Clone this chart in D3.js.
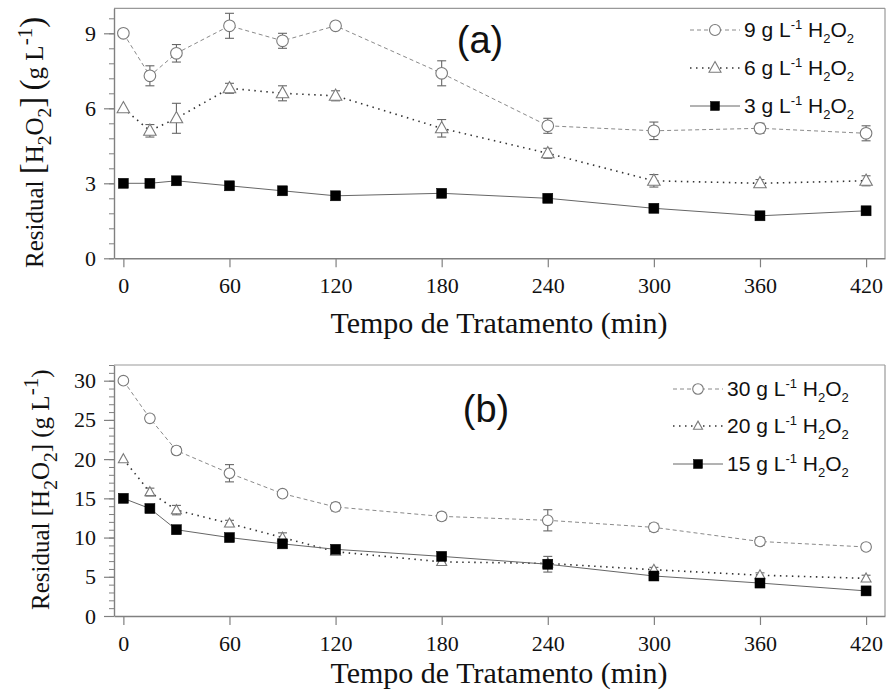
<!DOCTYPE html>
<html><head><meta charset="utf-8">
<script src="https://cdn.jsdelivr.net/npm/d3@7"></script>
<style>
body{margin:0;background:#fff;}
svg{display:block;}
</style></head>
<body>
<script>
// ---- data ----
const times = [0, 15, 30, 60, 90, 120, 180, 240, 300, 360, 420];
const xTicks = [0, 60, 120, 180, 240, 300, 360, 420];

const a9 = [9.0, 7.3, 8.2, 9.3, 8.7, 9.3, 7.4, 5.3, 5.1, 5.2, 5.0];
const a9err = [0, 0.4, 0.35, 0.5, 0.3, 0.15, 0.5, 0.3, 0.35, 0.2, 0.3];
const a6 = [6.0, 5.1, 5.6, 6.8, 6.6, 6.5, 5.2, 4.2, 3.1, 3.0, 3.1];
const a6err = [0, 0.25, 0.6, 0.2, 0.3, 0.2, 0.35, 0.2, 0.25, 0.15, 0.2];
const a3 = [3.0, 3.0, 3.1, 2.9, 2.7, 2.5, 2.6, 2.4, 2.0, 1.7, 1.9];
const a3err = [0, 0.05, 0.1, 0.05, 0.1, 0.05, 0.05, 0.1, 0.05, 0.05, 0.05];
const aYTicks = [0, 3, 6, 9];

const b30 = [30, 25.2, 21.1, 18.2, 15.6, 13.9, 12.7, 12.2, 11.3, 9.5, 8.8];
const b30err = [0, 0.4, 0.5, 1.1, 0.4, 0.5, 0.5, 1.35, 0.5, 0.5, 0.4];
const b20 = [20, 15.8, 13.5, 11.8, 10.0, 8.2, 6.9, 6.7, 5.9, 5.2, 4.8];
const b20err = [0, 0.5, 0.6, 0.4, 0.6, 0.3, 0.3, 0.4, 0.3, 0.3, 0.4];
const b15 = [15, 13.7, 11.0, 10.0, 9.2, 8.5, 7.6, 6.6, 5.1, 4.2, 3.2];
const b15err = [0, 0.3, 0.3, 0.5, 0.3, 0.3, 0.3, 1.0, 0.3, 0.3, 0.3];
const bYTicks = [0, 5, 10, 15, 20, 25, 30];

const legendA = ["9", "6", "3"];
const legendB = ["30", "20", "15"];
const xTitle = "Tempo de Tratamento (min)";

// ---- drawing ----
const W = 886, H = 691;
const svg = d3.select("body").append("svg").attr("width", W).attr("height", H);
const serif = "Liberation Serif, Times New Roman, serif";
const sans = "Liberation Sans, Arial, sans-serif";
const axisColor = "#808080";

const x = d3.scaleLinear().domain([-5.3, 430.7]).range([114, 885]);

const styles = [
  {shape: "circle", dash: "4,3", lineColor: "#8a8a8a", lw: 1, mStroke: "#7a7a7a", fill: "#fff"},
  {shape: "triangle", dash: "1.5,4.5", lineColor: "#333", lw: 1.6, mStroke: "#7a7a7a", fill: "#fff"},
  {shape: "square", dash: null, lineColor: "#666", lw: 1, mStroke: "#000", fill: "#000"}
];

function drawMarker(g, st, cx, cy, size) {
  if (st.shape === "circle") {
    g.append("circle").attr("cx", cx).attr("cy", cy).attr("r", size.c)
      .attr("fill", st.fill).attr("stroke", st.mStroke).attr("stroke-width", 1.1);
  } else if (st.shape === "triangle") {
    const s = size.t, h = s * 0.9;
    g.append("path").attr("d", `M${cx},${cy - h * 0.6}L${cx + s / 2},${cy + h * 0.4}L${cx - s / 2},${cy + h * 0.4}Z`)
      .attr("fill", st.fill).attr("stroke", st.mStroke).attr("stroke-width", 1.1);
  } else {
    const s = size.s;
    g.append("rect").attr("x", cx - s / 2).attr("y", cy - s / 2).attr("width", s).attr("height", s)
      .attr("fill", st.fill).attr("stroke", st.mStroke).attr("stroke-width", 0.5);
  }
}

function panel(cfg) {
  const y = d3.scaleLinear().domain(cfg.yDomain).range([cfg.y0, cfg.yTop]);
  const g = svg.append("g");
  g.append("line").attr("x1", 114).attr("x2", 885).attr("y1", cfg.yTop).attr("y2", cfg.yTop)
    .attr("stroke", "#999").attr("stroke-width", 1.2);
  g.append("line").attr("x1", 885).attr("x2", 885).attr("y1", cfg.yTop).attr("y2", cfg.y0)
    .attr("stroke", "#999").attr("stroke-width", 1.2);

  const yMinor = g.append("g").attr("transform", "translate(114,0)")
    .call(d3.axisLeft(y).tickValues(cfg.yMinor).tickSize(5).tickFormat("").tickSizeOuter(0));
  yMinor.select(".domain").remove();
  yMinor.selectAll("line").attr("stroke", axisColor).attr("stroke-width", 1);

  const yAxis = g.append("g").attr("transform", "translate(114,0)")
    .call(d3.axisLeft(y).tickValues(cfg.yTicks).tickSize(10).tickPadding(8).tickSizeOuter(0));
  yAxis.attr("font-family", serif).attr("font-size", 22);
  yAxis.select(".domain").attr("stroke", axisColor).attr("stroke-width", 1.4);
  yAxis.selectAll("line").attr("stroke", axisColor).attr("stroke-width", 1.2);
  yAxis.selectAll("text").style("font-family", serif).style("font-size", "22px").attr("fill", "#111");

  const xAxis = g.append("g").attr("transform", `translate(0,${cfg.y0})`)
    .call(d3.axisBottom(x).tickValues(xTicks).tickSize(9).tickPadding(10).tickSizeOuter(0));
  xAxis.attr("font-family", serif).attr("font-size", 22);
  xAxis.select(".domain").attr("stroke", axisColor).attr("stroke-width", 1.4);
  xAxis.selectAll("line").attr("stroke", axisColor).attr("stroke-width", 1.2);
  xAxis.selectAll("text").style("font-family", serif).style("font-size", "22px").attr("fill", "#111");

  g.append("text").attr("x", 499).attr("y", cfg.xTitleY).attr("text-anchor", "middle")
    .style("font-family", serif).attr("font-size", 30).attr("fill", "#111").text(xTitle);

  const yt = g.append("text").attr("transform", `translate(${cfg.yTitleX},${cfg.yTitleStart}) rotate(-90)`)
    .style("font-family", serif).attr("font-size", cfg.yFont).attr("fill", "#111");
  const bs = cfg.bigBracket;
  const parts = [
    ["Residual ", null, 0],
    ["[", bs, 0],
    ["H", null, 0],
    ["2", cfg.yFont * 0.78, 0.3],
    ["O", null, -0.3],
    ["2", cfg.yFont * 0.78, 0.3],
    ["]", bs, -0.3],
    [" ", null, 0],
    ["(", bs, 0],
    ["g L", null, 0],
    ["-1", cfg.yFont * 0.85, -0.45],
    [")", bs, 0.45]
  ];
  parts.forEach(p => {
    const ts = yt.append("tspan").text(p[0]);
    if (p[1]) ts.attr("font-size", p[1]);
    if (p[2]) ts.attr("dy", (p[2] * cfg.yFont) + "px");
  });

  g.append("text").attr("x", cfg.labX).attr("y", cfg.labY).attr("text-anchor", "middle")
    .style("font-family", sans).attr("font-size", 38).attr("fill", "#111").text(cfg.label);

  cfg.series.forEach((s, i) => {
    const st = styles[i];
    const pts = times.map((t, j) => [x(t), y(s.v[j])]);
    g.append("path").attr("d", d3.line()(pts)).attr("fill", "none")
      .attr("stroke", st.lineColor).attr("stroke-width", st.lw)
      .attr("stroke-dasharray", st.dash);
    times.forEach((t, j) => {
      const e = s.e[j];
      if (!e) return;
      const cx = x(t), y1 = y(s.v[j] - e), y2 = y(s.v[j] + e);
      g.append("line").attr("x1", cx).attr("x2", cx).attr("y1", y1).attr("y2", y2)
        .attr("stroke", "#666").attr("stroke-width", 1.1);
      [y1, y2].forEach(yy => g.append("line").attr("x1", cx - 4.5).attr("x2", cx + 4.5)
        .attr("y1", yy).attr("y2", yy).attr("stroke", "#666").attr("stroke-width", 1.1));
    });
    times.forEach((t, j) => drawMarker(g, st, x(t), y(s.v[j]), cfg.msize));
  });

  cfg.legendNames.forEach((nm, i) => {
    const st = styles[i];
    const ly = cfg.legY[i];
    const lx0 = cfg.legX, lx1 = cfg.legX + 50, mx = cfg.legX + 25;
    g.append("line").attr("x1", lx0).attr("x2", lx1).attr("y1", ly).attr("y2", ly)
      .attr("stroke", st.lineColor).attr("stroke-width", st.lw).attr("stroke-dasharray", st.dash);
    drawMarker(g, st, mx, ly, cfg.legMsize);
    const tx = g.append("text").attr("x", lx1 + 4).attr("y", ly + 7)
      .style("font-family", sans).attr("font-size", 21).attr("fill", "#111");
    tx.append("tspan").text(nm + " g L");
    tx.append("tspan").text("-1").attr("font-size", 13).attr("dy", "-8px");
    tx.append("tspan").text(" H").attr("dy", "8px");
    tx.append("tspan").text("2").attr("font-size", 13).attr("dy", "6px");
    tx.append("tspan").text("O").attr("dy", "-6px");
    tx.append("tspan").text("2").attr("font-size", 13).attr("dy", "6px");
  });
}

panel({
  yDomain: [0, 10], y0: 258.3, yTop: 8.3,
  yTicks: aYTicks, yMinor: d3.range(0, 10, 0.6).map(v => +v.toFixed(2)),
  xTitleY: 333, yTitleX: 43, yTitleStart: 268, yFont: 25, bigBracket: 33,
  label: "(a)", labX: 480, labY: 53,
  series: [{v: a9, e: a9err}, {v: a6, e: a6err}, {v: a3, e: a3err}],
  msize: {c: 5.8, t: 12.5, s: 10},
  legendNames: legendA, legY: [30, 68, 106], legX: 690,
  legMsize: {c: 5.5, t: 12, s: 9}
});

panel({
  yDomain: [0, 32], y0: 616, yTop: 365,
  yTicks: bYTicks, yMinor: d3.range(0, 33, 1),
  xTitleY: 683, yTitleX: 49, yTitleStart: 610, yFont: 25, bigBracket: null,
  label: "(b)", labX: 486, labY: 422,
  series: [{v: b30, e: b30err}, {v: b20, e: b20err}, {v: b15, e: b15err}],
  msize: {c: 5.3, t: 10, s: 10},
  legendNames: legendB, legY: [389, 426, 464], legX: 673,
  legMsize: {c: 5.3, t: 9, s: 9}
});
</script>
</body></html>
